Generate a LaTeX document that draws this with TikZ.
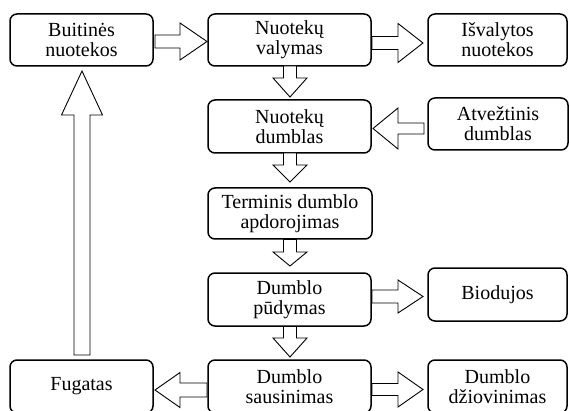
\documentclass[tikz,border=0pt]{standalone}
\usepackage{fontspec}
\setmainfont{Liberation Serif}
\newcommand\myHarrow[6]{%
  \draw[blockarrow] (#1,{#4-#5}) -- (#2,{#4-#5}) -- (#2,{#4-#6}) -- (#3,#4)
    -- (#2,{#4+#6}) -- (#2,{#4+#5}) -- (#1,{#4+#5}) -- cycle;}
\newcommand\myVarrow[6]{%
  \draw[blockarrow] ({#1-#5},#2) -- ({#1-#5},#3) -- ({#1-#6},#3) -- (#1,#4)
    -- ({#1+#6},#3) -- ({#1+#5},#3) -- ({#1+#5},#2) -- cycle;}
\begin{document}
\begin{tikzpicture}[x=1pt,y=-1pt,
  box/.style={draw, line width=1.5pt, rounded corners=7pt, align=center,
    inner sep=0pt, font=\fontsize{20}{20}\selectfont},
  blockarrow/.style={draw, line width=0.9pt, fill=white, line join=miter}]
\useasboundingbox (0,0) rectangle (569,411);
\clip (0,0) rectangle (569,411);
\fill[white] (0,0) rectangle (569,411);
% boxes
\node[box, minimum width=143pt, minimum height=52pt] (b1) at (81.5,40) {Buitinės\\nuotekos};
\node[box, minimum width=163pt, minimum height=52pt] (b2) at (289.5,40) {Nuotekų\\valymas};
\node[box, minimum width=139pt, minimum height=52pt] (b3) at (497.5,40) {Išvalytos\\nuotekos};
\node[box, minimum width=163pt, minimum height=53pt] (b4) at (289.5,126.5) {Nuotekų\\dumblas};
\node[box, minimum width=140pt, minimum height=52pt] (b5) at (498,124) {Atvežtinis\\dumblas};
\node[box, minimum width=164pt, minimum height=51pt] (b6) at (290,213.5) {Terminis dumblo\\apdorojimas};
\node[box, minimum width=163pt, minimum height=53pt] (b7) at (289.5,299.5) {Dumblo\\pūdymas};
\node[box, minimum width=139pt, minimum height=53pt] (b8) at (497.5,294.5) {Biodujos};
\node[box, minimum width=143pt, minimum height=53pt] (b9) at (81.5,386.5) {Fugatas};
\node[box, minimum width=163pt, minimum height=53pt] (b10) at (289.5,386.5) {Dumblo\\sausinimas};
\node[box, minimum width=139pt, minimum height=53pt] (b11) at (497.5,386.5) {Dumblo\\džiovinimas};
% horizontal block arrows
\myHarrow{155}{180}{207}{41.5}{6.5}{18.5}
\myHarrow{372}{398}{423}{43}{6.5}{19.5}
\myHarrow{424}{398}{373}{128.5}{5.5}{20.5}
\myHarrow{372}{398}{423}{296.5}{6.5}{16.5}
\myHarrow{207}{180}{155}{390}{7}{17.5}
\myHarrow{372}{398}{423}{389.5}{6}{17.5}
% vertical block arrows
\myVarrow{290}{66}{78}{97}{6.5}{17}
\myVarrow{290}{153}{165}{182}{6.5}{17}
\myVarrow{290}{239.5}{252}{266}{6.5}{17}
\myVarrow{290}{326.5}{338}{357}{6.5}{17}
\myVarrow{82}{355}{115}{71}{8}{20.5}
\end{tikzpicture}
\end{document}
